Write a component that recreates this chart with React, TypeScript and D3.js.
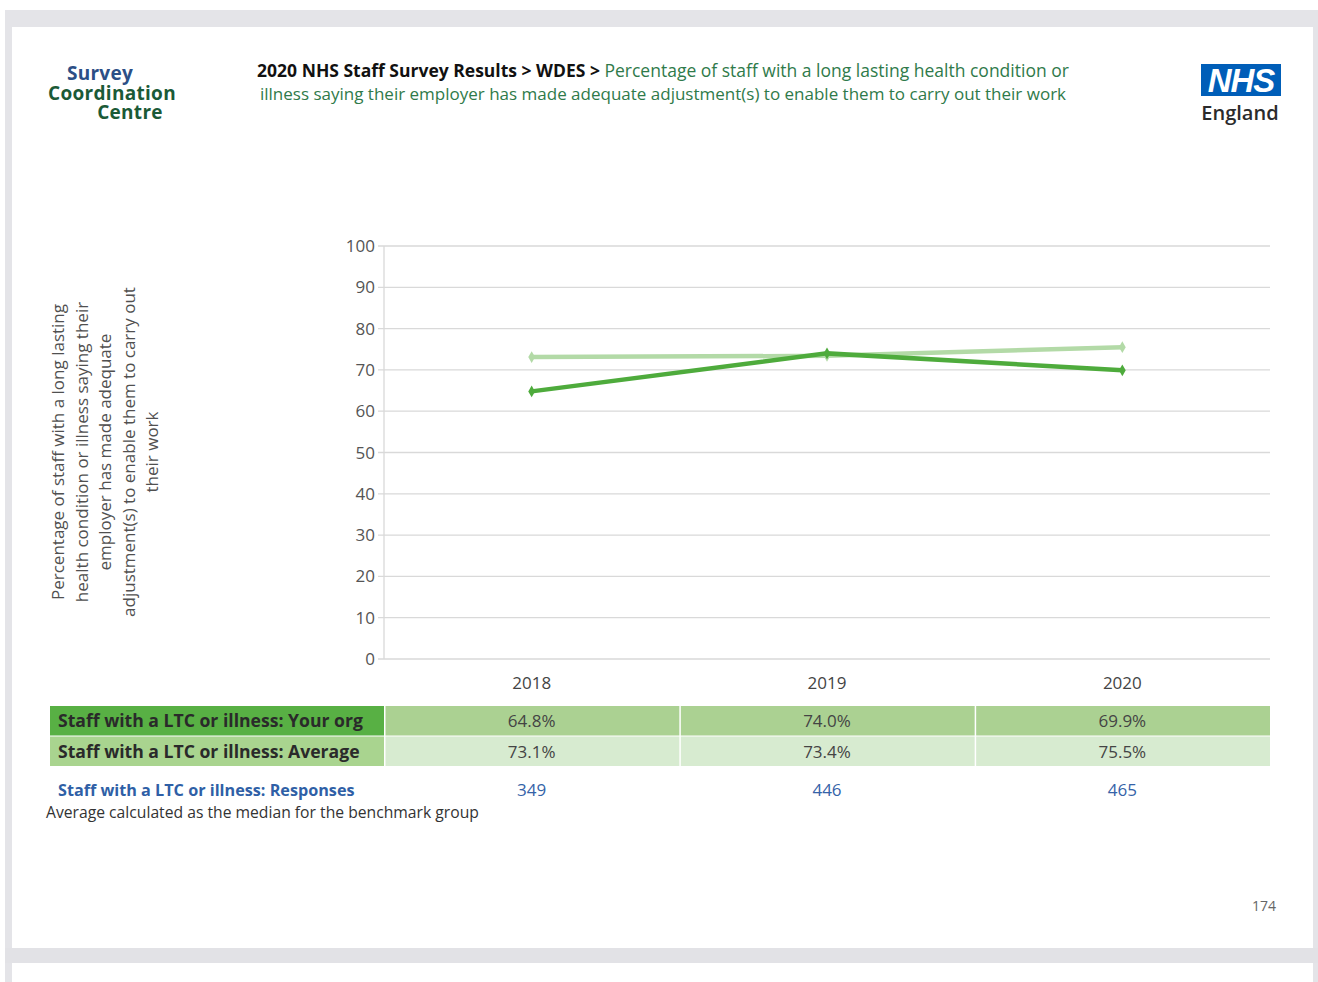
import React from "react";
import * as d3 from "d3";

const years = ["2018", "2019", "2020"];
const yourOrg = [64.8, 74.0, 69.9];
const average = [73.1, 73.4, 75.5];
const responses = [349, 446, 465];
const yTicks = [0, 10, 20, 30, 40, 50, 60, 70, 80, 90, 100];
const yLabelLines = [
  "Percentage of staff with a long lasting",
  "health condition or illness saying their",
  "employer has made adequate",
  "adjustment(s) to enable them to carry out",
  "their work",
];
const rowLabels = [
  "Staff with a LTC or illness: Your org",
  "Staff with a LTC or illness: Average",
];

const FONT = "'Open Sans', 'Noto Sans', sans-serif";

export default function App() {
  const W = 1318, H = 982;
  const left = 384, right = 1270, top = 246, bottom = 659;
  const x = d3.scaleBand<string>().domain(years).range([left, right]);
  const y = d3.scaleLinear().domain([0, 100]).range([bottom, top]);
  const cx = (yr: string) => (x(yr) as number) + x.bandwidth() / 2;

  const line = d3
    .line<number>()
    .x((_, i) => cx(years[i]))
    .y((d) => y(d));

  const diamond = d3.symbol().type(d3.symbolDiamond).size(40);

  const darkGreen = "#4eab3c";
  const lightGreen = "#b3daa7";

  const row1Y = 706, rowH = 29.5;

  return (
    <svg width={W} height={H} style={{ position: "absolute", left: 0, top: 0, background: "#fff" }}>
      {/* page frame */}
      <rect x={0} y={0} width={W} height={H} fill="#ffffff" />
      <rect x={5} y={10} width={1313} height={17} fill="#e4e4e8" />
      <rect x={5} y={10} width={7} height={972} fill="#e4e4e8" />
      <rect x={1313} y={10} width={5} height={972} fill="#e4e4e8" />
      <rect x={5} y={948} width={1313} height={15} fill="#e2e2e6" />
      <rect x={12} y={27} width={1301} height={921} fill="#ffffff" />
      <rect x={12} y={963} width={1301} height={19} fill="#ffffff" />

      {/* SCC logo */}
      <text fontFamily={FONT} fontWeight={700} fontSize={19} textAnchor="middle" letterSpacing={0.3}>
        <tspan x={100} y={80} fill="#2c4f86">Survey</tspan>
        <tspan x={112} y={99.5} fill="#1b5a37">Coordination</tspan>
        <tspan x={130} y={119} fill="#1b5a37">Centre</tspan>
      </text>

      {/* Title */}
      <g fontFamily={FONT}>
        <text x={663} y={77} textAnchor="middle" fontSize={17.5}>
          <tspan fontWeight={700} fill="#111">2020 NHS Staff Survey Results &gt; WDES &gt; </tspan>
          <tspan fill="#2f7a4a">Percentage of staff with a long lasting health condition or</tspan>
        </text>
        <text x={663} y={100} textAnchor="middle" fontSize={17} fill="#2f7a4a">
          illness saying their employer has made adequate adjustment(s) to enable them to carry out their work
        </text>
      </g>

      {/* NHS logo */}
      <rect x={1201} y={64} width={80} height={32} fill="#005eb8" />
      <text x={1241} y={92} textAnchor="middle" fontFamily="Arial, 'Liberation Sans', sans-serif" fontWeight={900} fontStyle="italic" fontSize={33} fill="#fff" letterSpacing={-1}>NHS</text>
      <text x={1240} y={120} textAnchor="middle" fontFamily={FONT} fontWeight={600} fontSize={20} fill="#2b2b2b">England</text>

      {/* y axis label */}
      <g transform="translate(105,452) rotate(-90)" fontFamily={FONT} fontSize={17} fill="#505050">
        {yLabelLines.map((l, i) => (
          <text key={i} x={0} y={(i - 2) * 23.5 + 6} textAnchor="middle">{l}</text>
        ))}
      </g>

      {/* grid */}
      {yTicks.map((t) => (
        <g key={t}>
          <line x1={378} x2={right} y1={y(t)} y2={y(t)} stroke="#d9d9d9" strokeWidth={1.3} />
          <text x={375} y={y(t) + 6} textAnchor="end" fontFamily={FONT} fontSize={17} fill="#555">{t}</text>
        </g>
      ))}
      <line x1={left} x2={left} y1={top} y2={bottom} stroke="#d9d9d9" strokeWidth={1.3} />

      {/* year labels */}
      {years.map((yr) => (
        <text key={yr} x={cx(yr)} y={689} textAnchor="middle" fontFamily={FONT} fontSize={17} fill="#444">{yr}</text>
      ))}

      {/* lines */}
      <path d={line(average) || ""} fill="none" stroke={lightGreen} strokeWidth={4.5} />
      {average.map((v, i) => (
        <path key={"a" + i} d={diamond() || ""} transform={`translate(${cx(years[i])},${y(v)})`} fill={lightGreen} />
      ))}
      <path d={line(yourOrg) || ""} fill="none" stroke={darkGreen} strokeWidth={4.5} />
      {yourOrg.map((v, i) => (
        <path key={"o" + i} d={diamond() || ""} transform={`translate(${cx(years[i])},${y(v)})`} fill={darkGreen} />
      ))}

      {/* table */}
      <rect x={50} y={row1Y} width={left - 50} height={rowH} fill="#58b044" />
      <rect x={50} y={row1Y + rowH + 1} width={left - 50} height={rowH} fill="#a9d48f" />
      {years.map((yr) => (
        <g key={yr}>
          <rect x={(x(yr) as number) + 1.5} y={row1Y} width={x.bandwidth() - 1.5} height={rowH} fill="#abd192" />
          <rect x={(x(yr) as number) + 1.5} y={row1Y + rowH + 1} width={x.bandwidth() - 1.5} height={rowH} fill="#d7ebd0" />
        </g>
      ))}
      <g fontFamily={FONT} fontWeight={700} fontSize={17.6} fill="#2a2a2a">
        {rowLabels.map((l, i) => (
          <text key={l} x={58} y={row1Y + i * (rowH + 1) + 21}>{l}</text>
        ))}
      </g>
      <g fontFamily={FONT} fontSize={17} fill="#444" textAnchor="middle">
        {years.map((yr, i) => (
          <g key={yr}>
            <text x={cx(yr)} y={row1Y + 21}>{yourOrg[i].toFixed(1)}%</text>
            <text x={cx(yr)} y={row1Y + rowH + 1 + 21}>{average[i].toFixed(1)}%</text>
            <text x={cx(yr)} y={796} fill="#3563a8">{responses[i]}</text>
          </g>
        ))}
      </g>
      <text x={58} y={796} fontFamily={FONT} fontWeight={700} fontSize={16.2} fill="#2f5fa6">Staff with a LTC or illness: Responses</text>
      <text x={46} y={818} fontFamily={FONT} fontSize={15.7} fill="#333">Average calculated as the median for the benchmark group</text>

      <text x={1276} y={911} textAnchor="end" fontFamily={FONT} fontSize={14} fill="#666">174</text>
    </svg>
  );
}
